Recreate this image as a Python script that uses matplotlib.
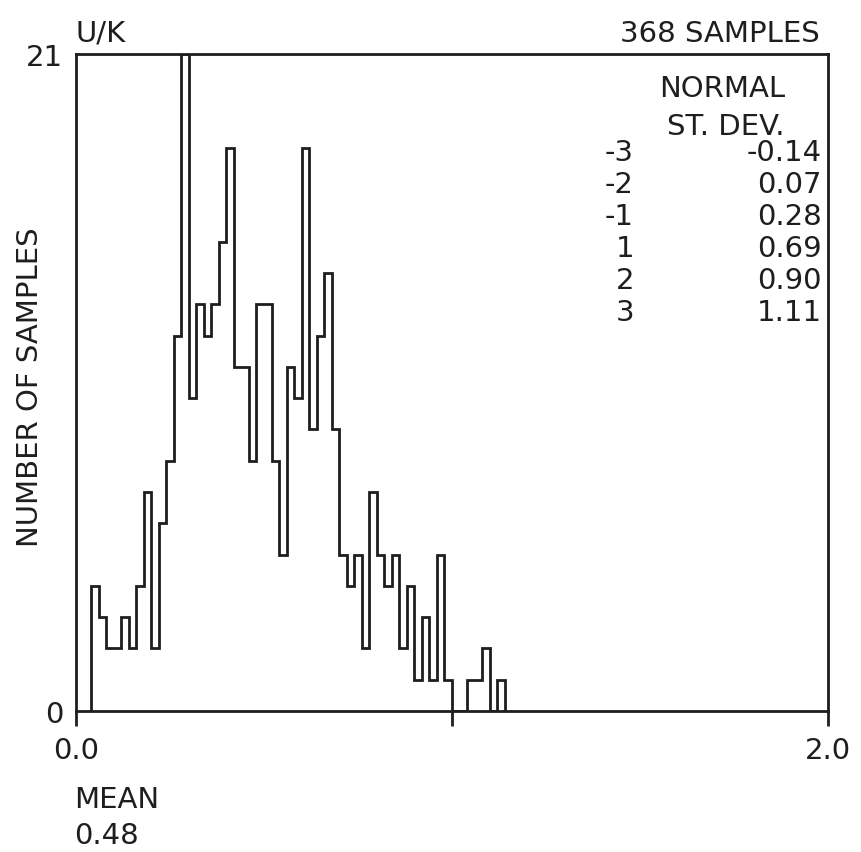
import numpy as np
import matplotlib
matplotlib.use('Agg')
import matplotlib.pyplot as plt

# histogram of U/K values, bins of 0.02 starting at 0.04
bin_start = 0.04
bin_width = 0.02
counts = [4, 3, 2, 2, 3, 2, 4, 7, 2, 6, 8, 12, 21, 10, 13, 12, 13, 15, 18, 11,
          11, 8, 13, 13, 8, 5, 11, 10, 18, 9, 12, 14, 9, 5, 4, 5, 2, 7, 5, 4,
          5, 2, 4, 1, 3, 1, 5, 1, 0, 0, 1, 1, 2, 0, 1]

sd_levels = ['-3', '-2', '-1', '1', '2', '3']
sd_values = ['-0.14', '0.07', '0.28', '0.69', '0.90', '1.11']

n_samples = 368
mean_value = '0.48'

plt.rcParams['font.family'] = ['DejaVu Sans']
ink = '#1e1e1e'
fs = 21

fig = plt.figure(figsize=(8.62, 8.53), dpi=100)
W, H = 862, 853
ax = fig.add_axes([76 / W, (H - 712) / H, (828 - 76) / W, (712 - 55) / H])

edges = bin_start + bin_width * np.arange(len(counts) + 1)
ax.stairs(counts, edges, baseline=0, color=ink, lw=2.0)

ax.set_xlim(0, 2)
ax.set_ylim(0, 21)
for s in ax.spines.values():
    s.set_color(ink)
    s.set_linewidth(2.0)

ax.set_xticks([0, 1, 2])
ax.set_xticklabels(['0.0', '', '2.0'])
ax.set_yticks([0, 21])
ax.set_yticklabels(['0', '21'])
ax.tick_params(axis='x', direction='out', length=11, width=2.0, color=ink,
               pad=7, labelsize=fs, labelcolor=ink)
ax.tick_params(axis='y', length=0, pad=9, labelsize=fs, labelcolor=ink)

# y label placed by hand so it stays inside the figure
fig.text(30 / W, 1 - 387 / H, 'NUMBER OF SAMPLES', fontsize=fs, color=ink,
         rotation=90, ha='center', va='center')

# titles above the frame
fig.text(75 / W, 1 - 42 / H, 'U/K', fontsize=fs, color=ink, va='baseline')
fig.text(820 / W, 1 - 42 / H, '%d SAMPLES' % n_samples, fontsize=fs,
         color=ink, va='baseline', ha='right')

# mean below the axis
fig.text(74 / W, 1 - 808 / H, 'MEAN', fontsize=fs, color=ink, va='baseline')
fig.text(74 / W, 1 - 844 / H, mean_value, fontsize=fs, color=ink, va='baseline')

# normal st. dev. table
fig.text(785 / W, 1 - 97 / H, 'NORMAL', fontsize=fs, color=ink,
         va='baseline', ha='right')
fig.text(785 / W, 1 - 135 / H, 'ST. DEV.', fontsize=fs, color=ink,
         va='baseline', ha='right')
for i, (lv, val) in enumerate(zip(sd_levels, sd_values)):
    y = 1 - (161 + 32 * i) / H
    fig.text(634 / W, y, lv, fontsize=fs, color=ink, va='baseline', ha='right')
    fig.text(822 / W, y, val, fontsize=fs, color=ink, va='baseline', ha='right')

fig.savefig('out.png', dpi=100, facecolor='white')
